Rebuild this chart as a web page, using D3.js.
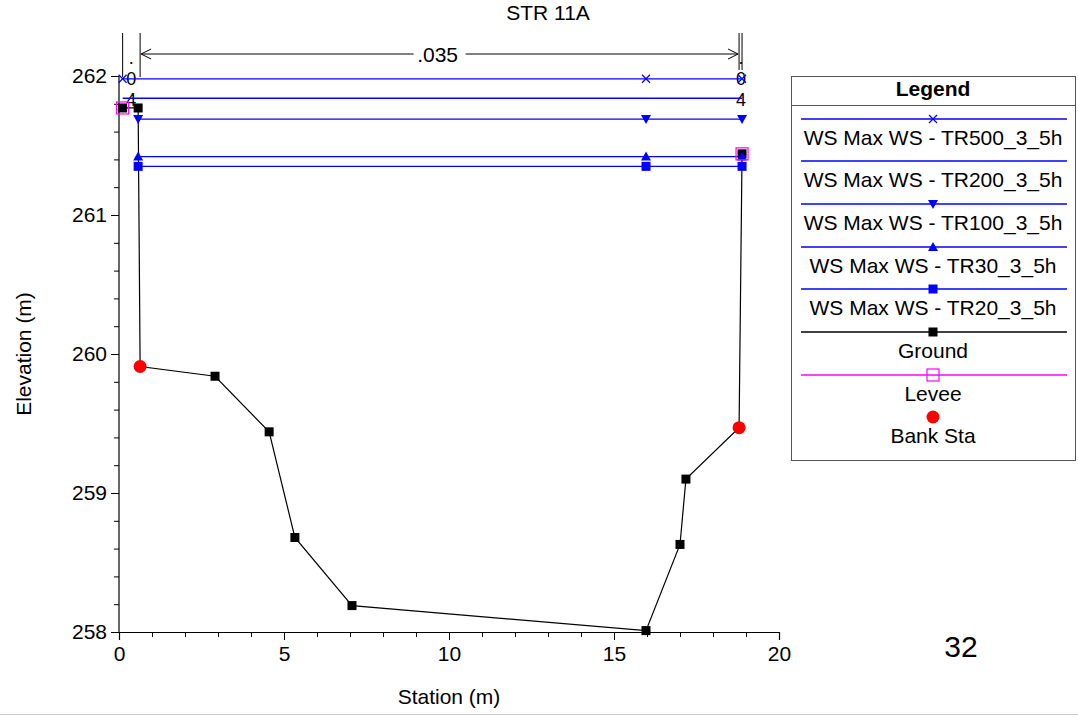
<!DOCTYPE html>
<html><head><meta charset="utf-8">
<script src="https://cdn.jsdelivr.net/npm/d3@7"></script>
<style>
body{margin:0;background:#fff;}
svg{display:block;font-family:"Liberation Sans",Arial,sans-serif;}
</style></head>
<body><svg id="c" width="1078" height="716"></svg>
<script>
// ---- data ----
const title = "STR 11A";
const groundSta  = [0.11, 0.58, 0.64, 2.91, 4.55, 5.33, 7.06, 15.97, 17.0, 17.18, 18.79, 18.88];
const groundElev = [261.77, 261.77, 259.91, 259.84, 259.44, 258.68, 258.19, 258.01, 258.63, 259.10, 259.47, 261.44];
const leveeSta  = [0.11, 18.88];
const leveeElev = [261.77, 261.44];
const bankSta  = [0.64, 18.79];
const bankElev = [259.91, 259.47];
const wsNames = ["WS Max WS - TR500_3_5h","WS Max WS - TR200_3_5h","WS Max WS - TR100_3_5h","WS Max WS - TR30_3_5h","WS Max WS - TR20_3_5h"];
const wsElev  = [261.98, 261.84, 261.69, 261.42, 261.35];
const wsStart = [0.11, 0.11, 0.58, 0.58, 0.58];
const wsEnd   = [18.88, 18.88, 18.88, 18.88, 18.88];
const wsMarkerSta = [[0.11, 15.97, 18.88], [], [0.58, 15.97, 18.88], [0.58, 15.97, 18.88], [0.58, 15.97, 18.88]];
const wsSymbol = ["x", "none", "down", "up", "square"];
const nBreaks = [0.11, 0.64, 18.79, 18.88];
const nValues = [".04", ".035", ".04"];
const xTicks = [0, 5, 10, 15, 20];
const yTicks = [258, 259, 260, 261, 262];
const pageNum = "32";

// ---- layout ----
const svg = d3.select("#c");
const x = d3.scaleLinear().domain([0, 20]).range([119, 779]);
const y = d3.scaleLinear().domain([258, 262]).range([632, 76]);
const BLUE = "#0000ff", PINK = "#ff00ff", RED = "#ff0000";
const FONT = 21;

svg.append("text").attr("x", 548).attr("y", 20).attr("text-anchor", "middle")
  .attr("font-size", FONT).text(title);

// axes
const yMinor = d3.range(258, 262.001, 0.2).filter(v => Math.abs(v - Math.round(v)) > 1e-6);
const xMinor = d3.range(0, 20.001, 1).filter(v => v % 5 !== 0);
const gy = svg.append("g").attr("transform", `translate(${x(0)},0)`)
  .call(d3.axisLeft(y).tickValues(yTicks).tickFormat(d3.format("d")).tickSize(8).tickPadding(4));
svg.append("g").attr("transform", `translate(${x(0)},0)`)
  .call(d3.axisLeft(y).tickValues(yMinor).tickFormat("").tickSize(5))
  .select(".domain").remove();
const gx = svg.append("g").attr("transform", `translate(0,${y(258)})`)
  .call(d3.axisBottom(x).tickValues(xTicks).tickFormat(d3.format("d")).tickSize(8).tickPadding(6));
svg.append("g").attr("transform", `translate(0,${y(258)})`)
  .call(d3.axisBottom(x).tickValues(xMinor).tickFormat("").tickSize(5))
  .select(".domain").remove();
svg.selectAll(".domain").attr("stroke", "#000").attr("stroke-width", 1.2);
svg.selectAll(".tick line").attr("stroke", "#000");
svg.selectAll(".tick text").attr("font-size", FONT).attr("font-family", "Liberation Sans, Arial, sans-serif").attr("fill", "#000");
gy.selectAll("path.domain").attr("d", `M-0,${y(258)}V${y(262)}`);

svg.append("text").attr("x", 449).attr("y", 704).attr("text-anchor", "middle")
  .attr("font-size", FONT).text("Station (m)");
svg.append("text").attr("transform", `translate(31,354) rotate(-90)`).attr("text-anchor", "middle")
  .attr("font-size", FONT).text("Elevation (m)");

// n-value break lines and labels
const nTop = 33, nArrowY = 54;
nBreaks.forEach((s, i) => {
  svg.append("line").attr("x1", x(s)).attr("x2", x(s)).attr("y1", nTop).attr("y2", i < 2 ? 77 : 70)
    .attr("stroke", "#000").attr("stroke-width", 1);
});
function stacked(cx, str) {
  const ys = [64, 85, 106];
  str.split("").forEach((ch, i) => {
    svg.append("text").attr("x", cx).attr("y", ys[i]).attr("text-anchor", "middle")
      .attr("font-size", 18).text(ch);
  });
}
stacked((x(nBreaks[0]) + x(nBreaks[1])) / 2, nValues[0]);
stacked(x(nBreaks[3]) - 1, nValues[2]);
// main channel arrow
{
  const a = x(nBreaks[1]) + 1, b = x(nBreaks[2]) - 1, mid = (a + b) / 2;
  const halfGap = 26;
  svg.append("line").attr("x1", a).attr("x2", mid - halfGap).attr("y1", nArrowY).attr("y2", nArrowY).attr("stroke", "#000");
  svg.append("line").attr("x1", mid + halfGap).attr("x2", b).attr("y1", nArrowY).attr("y2", nArrowY).attr("stroke", "#000");
  svg.append("path").attr("d", `M${a + 10},${nArrowY - 5}L${a},${nArrowY}L${a + 10},${nArrowY + 5}`).attr("fill", "none").attr("stroke", "#000");
  svg.append("path").attr("d", `M${b - 10},${nArrowY - 5}L${b},${nArrowY}L${b - 10},${nArrowY + 5}`).attr("fill", "none").attr("stroke", "#000");
  svg.append("text").attr("x", mid - 2).attr("y", 62).attr("text-anchor", "middle").attr("font-size", FONT).text(nValues[1]);
}

// marker drawing
function marker(g, sym, cx, cy, color) {
  if (sym === "x") {
    g.append("path").attr("d", `M${cx - 4},${cy - 4}L${cx + 4},${cy + 4}M${cx - 4},${cy + 4}L${cx + 4},${cy - 4}`)
      .attr("stroke", color).attr("stroke-width", 1.2).attr("fill", "none");
  } else if (sym === "down") {
    g.append("path").attr("d", `M${cx - 5},${cy - 4}L${cx + 5},${cy - 4}L${cx},${cy + 5}Z`).attr("fill", color);
  } else if (sym === "up") {
    g.append("path").attr("d", `M${cx - 5},${cy + 4}L${cx + 5},${cy + 4}L${cx},${cy - 5}Z`).attr("fill", color);
  } else if (sym === "square") {
    g.append("rect").attr("x", cx - 4.5).attr("y", cy - 4.5).attr("width", 9).attr("height", 9).attr("fill", color);
  } else if (sym === "osquare") {
    g.append("rect").attr("x", cx - 6).attr("y", cy - 6).attr("width", 12).attr("height", 12)
      .attr("fill", "none").attr("stroke", color).attr("stroke-width", 1.2);
  } else if (sym === "circle") {
    g.append("circle").attr("cx", cx).attr("cy", cy).attr("r", 6.5).attr("fill", color);
  }
}

// water surfaces
const plot = svg.append("g");
wsElev.forEach((e, i) => {
  plot.append("line").attr("x1", x(wsStart[i])).attr("x2", x(wsEnd[i])).attr("y1", y(e)).attr("y2", y(e))
    .attr("stroke", BLUE).attr("stroke-width", 1.3);
});
// ground
const line = d3.line().x(d => x(d[0])).y(d => y(d[1]));
const groundPts = groundSta.map((s, i) => [s, groundElev[i]]);
plot.append("path").attr("d", line(groundPts)).attr("fill", "none").attr("stroke", "#000").attr("stroke-width", 1.2);
groundPts.forEach(p => marker(plot, "square", x(p[0]), y(p[1]), "#000"));
wsElev.forEach((e, i) => {
  wsMarkerSta[i].forEach(s => marker(plot, wsSymbol[i], x(s), y(e), BLUE));
});
leveeSta.forEach((s, i) => marker(plot, "osquare", x(s), y(leveeElev[i]), PINK));
bankSta.forEach((s, i) => marker(plot, "circle", x(s), y(bankElev[i]), RED));

// legend
const L = svg.append("g");
const lx0 = 791, lx1 = 1075, ly0 = 76, ly1 = 460, lcx = 933;
L.append("rect").attr("x", lx0 + 0.5).attr("y", ly0 + 0.5).attr("width", lx1 - lx0).attr("height", ly1 - ly0)
  .attr("fill", "#fff").attr("stroke", "#555").attr("stroke-width", 1);
L.append("line").attr("x1", lx0).attr("x2", lx1).attr("y1", 105.5).attr("y2", 105.5).attr("stroke", "#555");
L.append("text").attr("x", lcx).attr("y", 96).attr("text-anchor", "middle").attr("font-size", FONT)
  .attr("font-weight", "bold").text("Legend");
const legNames = wsNames.concat(["Ground", "Levee", "Bank Sta"]);
const legColors = [BLUE, BLUE, BLUE, BLUE, BLUE, "#000", PINK, null];
const legSyms = wsSymbol.concat(["square", "osquare", "circle"]);
const legLineY = [119, 161, 204, 247, 289, 332, 375, 417];
legNames.forEach((nm, i) => {
  const ly = legLineY[i];
  if (legColors[i]) {
    L.append("line").attr("x1", 801).attr("x2", 1067).attr("y1", ly).attr("y2", ly)
      .attr("stroke", legColors[i]).attr("stroke-width", 1.3);
  }
  const c = legColors[i] || RED;
  if (legSyms[i] !== "none") marker(L, legSyms[i], lcx, ly, c);
  L.append("text").attr("x", lcx).attr("y", ly + 26).attr("text-anchor", "middle").attr("font-size", FONT).text(nm);
});

svg.append("text").attr("x", 961).attr("y", 657).attr("text-anchor", "middle").attr("font-size", 30).text(pageNum);
// bottom page edge line
svg.append("line").attr("x1", 0).attr("x2", 1078).attr("y1", 714.5).attr("y2", 714.5).attr("stroke", "#ccc");
</script></body></html>
